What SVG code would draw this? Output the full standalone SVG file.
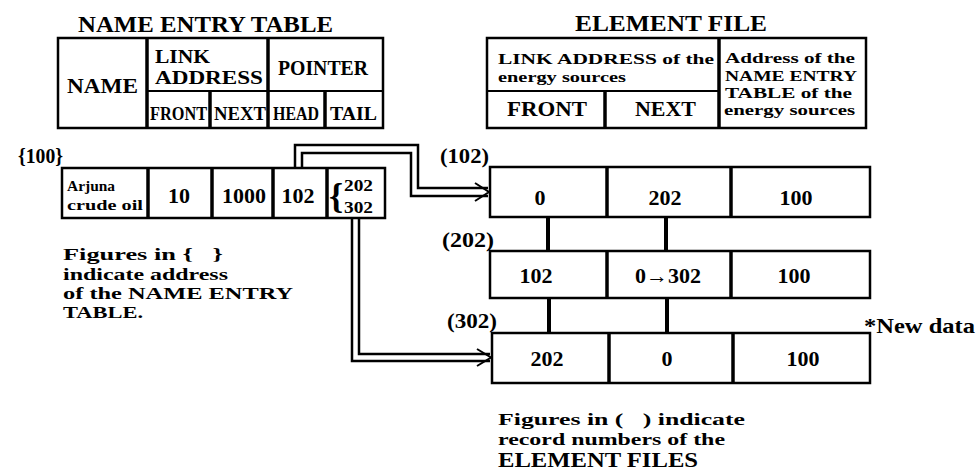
<svg xmlns="http://www.w3.org/2000/svg" width="976" height="473" viewBox="0 0 976 473">
<style>
  text { font-family: "Liberation Serif", "DejaVu Serif", serif; font-weight: bold; fill: #000; }
  .box { fill: none; stroke: #000; stroke-width: 2.5; }
  .div { stroke: #000; stroke-width: 3.5; }
  .hdiv { stroke: #000; stroke-width: 2; }
  .dl { fill: none; stroke: #000; stroke-width: 2.5; stroke-linejoin: miter; }
  .vl { stroke: #000; stroke-width: 4; }
  .ah { fill: none; stroke: #000; stroke-width: 2; }
  .c { text-anchor: middle; }
</style>
<rect width="976" height="473" fill="#fff"/>

<g id="name-entry-table">
  <text x="78" y="32" font-size="24" textLength="255" lengthAdjust="spacingAndGlyphs">NAME ENTRY TABLE</text>
  <rect class="box" x="58" y="38" width="325" height="90"/>
  <line class="div" x1="147" y1="38" x2="147" y2="128"/>
  <line class="div" x1="268" y1="38" x2="268" y2="128"/>
  <line class="hdiv" x1="147" y1="91" x2="383" y2="91"/>
  <line class="div" x1="210" y1="91" x2="210" y2="128"/>
  <line class="div" x1="325" y1="91" x2="325" y2="128"/>
  <text x="67" y="93" font-size="22" textLength="71" lengthAdjust="spacingAndGlyphs">NAME</text>
  <text x="155" y="63" font-size="18" textLength="55" lengthAdjust="spacingAndGlyphs">LINK</text>
  <text x="155" y="84" font-size="18" textLength="108" lengthAdjust="spacingAndGlyphs">ADDRESS</text>
  <text x="278" y="75" font-size="20" textLength="90" lengthAdjust="spacingAndGlyphs">POINTER</text>
  <text x="150" y="120" font-size="18" textLength="57" lengthAdjust="spacingAndGlyphs">FRONT</text>
  <text x="214" y="120" font-size="18" textLength="52" lengthAdjust="spacingAndGlyphs">NEXT</text>
  <text x="273" y="120" font-size="18" textLength="46" lengthAdjust="spacingAndGlyphs">HEAD</text>
  <text x="330" y="120" font-size="18" textLength="47" lengthAdjust="spacingAndGlyphs">TAIL</text>
</g>

<g id="element-file-table">
  <text x="575" y="31" font-size="24" textLength="192" lengthAdjust="spacingAndGlyphs">ELEMENT FILE</text>
  <rect class="box" x="487" y="38" width="379" height="90"/>
  <line class="div" x1="719" y1="38" x2="719" y2="128"/>
  <line class="hdiv" x1="487" y1="91" x2="719" y2="91"/>
  <line class="div" x1="605" y1="91" x2="605" y2="128"/>
  <text x="498" y="64" font-size="14.5" textLength="216" lengthAdjust="spacingAndGlyphs">LINK ADDRESS of the</text>
  <text x="498" y="82" font-size="14.5" textLength="128" lengthAdjust="spacingAndGlyphs">energy sources</text>
  <text x="507" y="116" font-size="20" textLength="80" lengthAdjust="spacingAndGlyphs">FRONT</text>
  <text x="635" y="116" font-size="20" textLength="61" lengthAdjust="spacingAndGlyphs">NEXT</text>
  <text x="725" y="63" font-size="14" textLength="130" lengthAdjust="spacingAndGlyphs">Address of the</text>
  <text x="725" y="81" font-size="14" textLength="132" lengthAdjust="spacingAndGlyphs">NAME ENTRY</text>
  <text x="725" y="98" font-size="14" textLength="127" lengthAdjust="spacingAndGlyphs">TABLE of the</text>
  <text x="724" y="115" font-size="14" textLength="131" lengthAdjust="spacingAndGlyphs">energy sources</text>
</g>

<g id="name-record-100">
  <text x="18" y="163" font-size="21" textLength="45" lengthAdjust="spacingAndGlyphs">{100}</text>
  <rect class="box" x="62" y="168" width="323" height="50"/>
  <line class="div" x1="148" y1="168" x2="148" y2="218"/>
  <line class="div" x1="212" y1="168" x2="212" y2="218"/>
  <line class="div" x1="273" y1="168" x2="273" y2="218"/>
  <line class="div" x1="327" y1="168" x2="327" y2="218"/>
  <text x="67" y="191" font-size="15" textLength="48" lengthAdjust="spacingAndGlyphs">Arjuna</text>
  <text x="67" y="210" font-size="15" textLength="76" lengthAdjust="spacingAndGlyphs">crude oil</text>
  <text class="c" x="179" y="203" font-size="22">10</text>
  <text class="c" x="244" y="203" font-size="22">1000</text>
  <text class="c" x="298" y="203" font-size="22">102</text>
  <text x="329" y="208" font-size="36">{</text>
  <text x="344" y="191" font-size="16" textLength="29" lengthAdjust="spacingAndGlyphs">202</text>
  <text x="344" y="213" font-size="16" textLength="29" lengthAdjust="spacingAndGlyphs">302</text>
</g>

<g id="element-record-102">
  <text x="440" y="163" font-size="21" textLength="49" lengthAdjust="spacingAndGlyphs">(102)</text>
  <rect class="box" x="490" y="167" width="380" height="50"/>
  <line class="div" x1="607" y1="167" x2="607" y2="217"/>
  <line class="div" x1="731" y1="167" x2="731" y2="217"/>
  <text class="c" x="540" y="205" font-size="22">0</text>
  <text class="c" x="665" y="205" font-size="22">202</text>
  <text class="c" x="796" y="205" font-size="22">100</text>
</g>

<g id="element-record-202">
  <text x="442" y="247" font-size="21" textLength="52" lengthAdjust="spacingAndGlyphs">(202)</text>
  <rect class="box" x="490" y="251" width="380" height="47"/>
  <line class="div" x1="607" y1="251" x2="607" y2="298"/>
  <line class="div" x1="731" y1="251" x2="731" y2="298"/>
  <text class="c" x="536" y="283" font-size="22">102</text>
  <text class="c" x="668" y="283" font-size="22">0→302</text>
  <text class="c" x="794" y="283" font-size="22">100</text>
</g>

<g id="element-record-302">
  <text x="447" y="328" font-size="21" textLength="50" lengthAdjust="spacingAndGlyphs">(302)</text>
  <rect class="box" x="492" y="333" width="378" height="50"/>
  <line class="div" x1="609" y1="333" x2="609" y2="383"/>
  <line class="div" x1="733" y1="333" x2="733" y2="383"/>
  <text class="c" x="547" y="366" font-size="22">202</text>
  <text class="c" x="667" y="366" font-size="22">0</text>
  <text class="c" x="803" y="366" font-size="22">100</text>
  <text x="864" y="333" font-size="21" textLength="111" lengthAdjust="spacingAndGlyphs">*New data</text>
</g>

<g id="notes">
  <text x="63" y="260" font-size="17" textLength="160" lengthAdjust="spacingAndGlyphs">Figures in {&#160;&#160;&#160;}</text>
  <text x="63" y="280" font-size="17" textLength="165" lengthAdjust="spacingAndGlyphs">indicate address</text>
  <text x="63" y="299" font-size="17" textLength="230" lengthAdjust="spacingAndGlyphs">of the NAME ENTRY</text>
  <text x="63" y="318" font-size="17" textLength="80" lengthAdjust="spacingAndGlyphs">TABLE.</text>
  <text x="498" y="425" font-size="17" textLength="247" lengthAdjust="spacingAndGlyphs">Figures in (&#160;&#160;&#160;) indicate</text>
  <text x="498" y="445" font-size="17" textLength="227" lengthAdjust="spacingAndGlyphs">record numbers of the</text>
  <text x="498" y="467" font-size="20" textLength="200" lengthAdjust="spacingAndGlyphs">ELEMENT FILES</text>
</g>

<g id="connectors">
  <polyline class="dl" points="295,168 295,145 418,145 418,188 488,188"/>
  <polyline class="dl" points="302,168 302,153 411,153 411,196 488,196"/>
  <polyline class="ah" points="475,183 489,192 475,201"/>
  <polyline class="dl" points="352,218 352,361 490,361"/>
  <polyline class="dl" points="359,218 359,354 490,354"/>
  <polyline class="ah" points="477,349 491,357.5 477,366"/>
  <line class="vl" x1="548" y1="217" x2="548" y2="251"/>
  <line class="vl" x1="666" y1="217" x2="666" y2="251"/>
  <line class="vl" x1="549" y1="298" x2="549" y2="333"/>
  <line class="vl" x1="667" y1="298" x2="667" y2="333"/>
</g>
</svg>
